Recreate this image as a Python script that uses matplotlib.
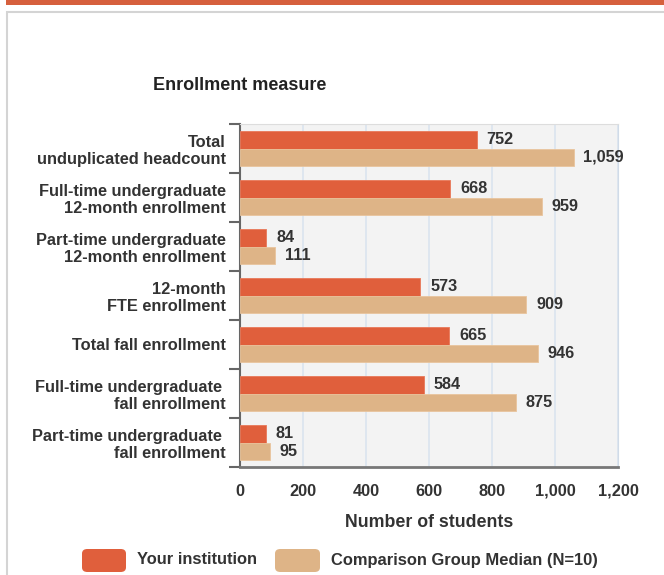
import matplotlib
matplotlib.use('Agg')
import matplotlib.pyplot as plt
from matplotlib.patches import Rectangle, FancyBboxPatch
from matplotlib.ticker import FuncFormatter

plt.rcParams['font.family'] = ['Liberation Sans', 'DejaVu Sans']
plt.rcParams['font.weight'] = 'bold'

categories = ['Total\nunduplicated headcount',
              'Full-time undergraduate\n12-month enrollment',
              'Part-time undergraduate\n12-month enrollment',
              '12-month\nFTE enrollment',
              'Total fall enrollment',
              'Full-time undergraduate \nfall enrollment',
              'Part-time undergraduate \nfall enrollment']
yours = [752, 668, 84, 573, 665, 584, 81]
median = [1059, 959, 111, 909, 946, 875, 95]
series_names = ['Your institution', 'Comparison Group Median (N=10)']

c_you = '#e05f3c'
c_med = '#deb487'
txt = '#333333'

W, H = 664, 575
fig = plt.figure(figsize=(W / 100, H / 100), dpi=100)

# page decoration: orange band on top and grey panel frame
fig.add_artist(Rectangle((6 / W, 1 - 5 / H), 1, 5 / H, transform=fig.transFigure,
                         color='#d6603d', lw=0))
fig.add_artist(Rectangle((7 / W, -0.1), 1, 1 - 12 / H + 0.1, transform=fig.transFigure,
                         fill=False, ec='#d4d4d4', lw=1.5))

ax = fig.add_axes([240 / W, 1 - 467 / H, (618 - 240) / W, (467 - 124) / H])
ax.set_facecolor('#f3f3f3')

h = 0.36
pos = list(range(len(categories)))
b1 = ax.barh([p - h / 2 for p in pos], yours, height=h, color=c_you,
             edgecolor='#e8795a', lw=0.6, zorder=3)
b2 = ax.barh([p + h / 2 for p in pos], median, height=h, color=c_med,
             edgecolor='#e8c49d', lw=0.6, zorder=3)

for bars, vals in ((b1, yours), (b2, median)):
    for bar, v in zip(bars, vals):
        ax.annotate(f'{v:,}', (v, bar.get_y() + bar.get_height() / 2),
                    xytext=(7, 0), textcoords='offset points', va='center',
                    ha='left', fontsize=11.7, fontweight='bold', color=txt)

ax.set_xlim(0, 1200)
ax.set_ylim(len(categories) - 0.5, -0.5)
ax.set_xticks(range(0, 1201, 200))
ax.xaxis.set_major_formatter(FuncFormatter(lambda x, p: f'{int(x):,}'))
ax.tick_params(axis='x', length=0, pad=12, labelsize=11.8, labelcolor=txt)
ax.grid(axis='x', color='#dae4ef', lw=1.2, zorder=0)

ax.set_yticks([p - 0.5 for p in pos] + [len(pos) - 0.5])
ax.set_yticklabels([])
ax.set_yticks(pos, minor=True)
ax.set_yticklabels(categories, minor=True, fontsize=11.8, color=txt,
                   linespacing=1.15)
ax.tick_params(axis='y', which='major', length=8, width=1.5, color='#666666')
ax.tick_params(axis='y', which='minor', length=0, pad=10)
for lab in ax.get_yticklabels(minor=True):
    lab.set_horizontalalignment('right')

ax.spines['left'].set_color('#666666')
ax.spines['left'].set_linewidth(1.5)
ax.spines['bottom'].set_color('#777777')
ax.spines['bottom'].set_linewidth(2)
ax.spines['top'].set_color('#dddddd')
ax.spines['right'].set_color('#d0dbe8')

ax.set_xlabel('Number of students', fontsize=12.8, fontweight='bold',
              color=txt, labelpad=11)
fig.text(240 / W, 1 - 86 / H, 'Enrollment measure', ha='center', va='center',
         fontsize=13, color='#222222')

# legend
for x0, x1, col, name in ((82, 126, c_you, series_names[0]),
                          (275, 320, c_med, series_names[1])):
    fig.add_artist(FancyBboxPatch((x0 / W, 1 - 572 / H), (x1 - x0) / W, 23 / H,
                                  boxstyle='round,pad=0,rounding_size=0.008',
                                  transform=fig.transFigure, fc=col, ec='none'))
    fig.text((x1 + 11) / W, 1 - 560 / H, name, ha='left', va='center',
             fontsize=11.9, color=txt)

fig.savefig('out.png', dpi=100)
